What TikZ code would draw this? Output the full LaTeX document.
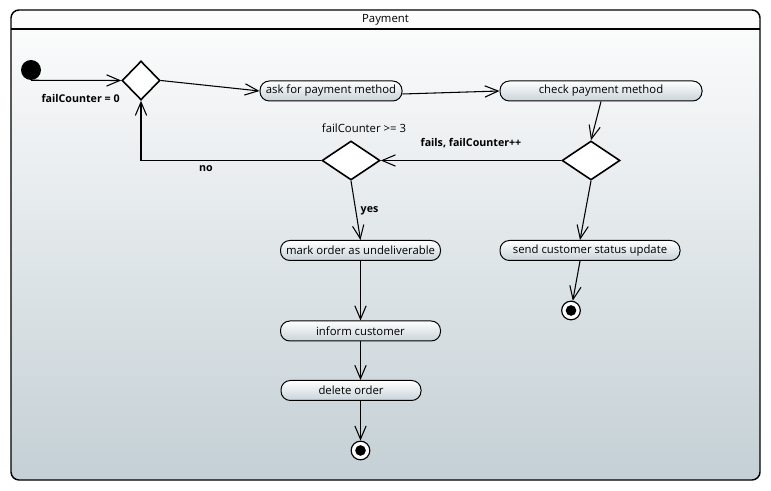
\documentclass[tikz,border=0pt]{standalone}
\usepackage{fontspec}
\setmainfont{Open Sans}
\usepackage{tikz}
\usetikzlibrary{arrows.meta,shapes.geometric,positioning,calc}

\definecolor{paneltop}{RGB}{253,253,253}
\definecolor{panelbottom}{RGB}{196,208,213}
\definecolor{actiontop}{RGB}{255,255,255}
\definecolor{actionbottom}{RGB}{200,211,217}

\begin{document}
\begin{tikzpicture}[x=0.75pt,y=-0.75pt,
    font=\fontsize{8.5pt}{10pt}\selectfont,
    flow/.style={line width=0.8pt,-{Straight Barb[length=10pt,width=8.5pt]}},
    action/.style={draw,line width=0.75pt,rounded corners=7pt,top color=actiontop,bottom color=actionbottom,minimum height=15pt,inner sep=0pt},
    decision/.style={diamond,draw,line width=1.2pt,fill=white,inner sep=0pt,minimum height=29.25pt},
    start/.style={circle,fill=black,inner sep=0pt,minimum size=15pt},
    stop/.style={circle,draw,line width=0.9pt,fill=white,inner sep=0pt,minimum size=14pt,path picture={\fill[black] (path picture bounding box.center) circle (4pt);}},
    guard/.style={font=\fontsize{8pt}{10pt}\selectfont\bfseries}
  ]
    \useasboundingbox (0,0) rectangle (771,491);

    \draw[line width=1.1pt,rounded corners=6pt,top color=paneltop,bottom color=panelbottom] (11,10) rectangle (760,480);
    \draw[line width=1.1pt] (11,29) -- (760,29);
    \node (title) at (385.5,20) {Payment};

    \node[start] (init) at (31,70) {};
    \node[decision,minimum width=28.5pt] (split) at (141,80.5) {};
    \node[action,minimum width=106.5pt] (ask) at (331,91) {ask for payment method};
    \node[action,minimum width=151.5pt] (check) at (601,91) {check payment method};
    \node[decision,minimum width=43.5pt] (valid) at (591,160.5) {};
    \node[decision,minimum width=43.5pt] (limit) at (351,160.5) {};
    \node (limitnote) at (364,128) {failCounter >= 3};

    \node[action,minimum width=120pt] (mark) at (360.5,250.5) {mark order as undeliverable};
    \node[action,minimum width=135pt] (send) at (590,250.5) {send customer status update};
    \node[action,minimum width=120pt] (inform) at (360.5,331) {inform customer};
    \node[action,minimum width=105pt] (delete) at (351,390.5) {delete order};
    \node[stop] (fin2) at (571,310.5) {};
    \node[stop] (fin1) at (360.5,450.5) {};

    \draw[flow] (init.south) -- (split.west) node[pos=0.55,below=7pt,guard] (initguard) {failCounter = 0};
    \draw[flow] (split.east) -- (ask.west);
    \draw[flow] ([yshift=-2.25pt]ask.east) -- (check.west);
    \draw[flow] (check.south) -- (valid.north);
    \draw[flow] (valid.west) -- (limit.east) node[midway,above=6pt,guard] (failguard) {fails, failCounter++};
    \draw[flow] (limit.west) -| (split.south) node[pos=0.32,below,guard] (noguard) {no};
    \draw[flow] (limit.south) -- (mark.north) node[midway,right=0pt,guard] (yesguard) {yes};
    \draw[flow] (valid.south) -- ([xshift=-7.5pt]send.north);
    \draw[flow] ([xshift=-7.5pt]send.south) -- (fin2);
    \draw[flow] (mark) -- (inform);
    \draw[flow] (inform.south) -- (inform.south |- delete.north);
    \draw[flow] (delete.south -| fin1) -- (fin1);
\end{tikzpicture}
\end{document}
